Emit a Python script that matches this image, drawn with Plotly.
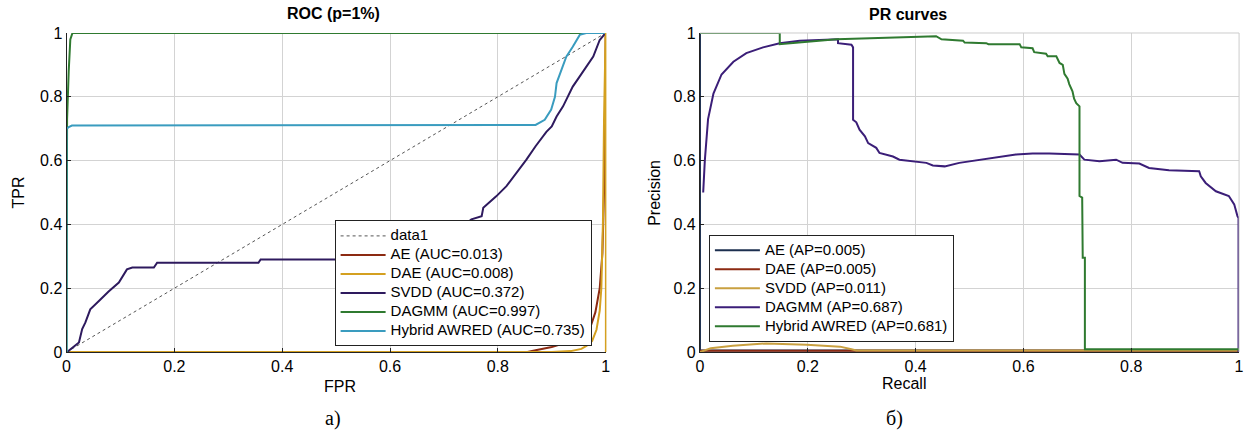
import plotly.graph_objects as go
from plotly.subplots import make_subplots

# ---- ROC data (left panel) ----
diag_fpr = [0, 1]
diag_tpr = [0, 1]

ae_fpr = [0, 0.855, 0.87, 0.885, 0.9, 0.912, 0.925, 0.94, 0.952, 0.964, 0.973, 0.981, 0.989, 0.994, 0.997, 0.999, 1.0]
ae_tpr = [0, 0, 0.006, 0.01, 0.016, 0.022, 0.03, 0.038, 0.046, 0.062, 0.085, 0.125, 0.2, 0.31, 0.5, 0.75, 1.0]

dae_fpr = [0, 0.9, 0.935, 0.955, 0.965, 0.975, 0.983, 0.989, 0.992, 0.995, 0.997, 0.999, 1.0]
dae_tpr = [0, 0, 0.003, 0.01, 0.02, 0.035, 0.07, 0.13, 0.2, 0.41, 0.73, 0.94, 1.0]

svdd_fpr = [0, 0.001, 0.023, 0.029, 0.035, 0.044, 0.06, 0.078, 0.097, 0.112, 0.122, 0.162, 0.168,
            0.356, 0.36, 0.65, 0.70, 0.732, 0.751, 0.77, 0.773, 0.797, 0.816, 0.834, 0.853, 0.87,
            0.88, 0.89, 0.9, 0.909, 0.921, 0.933, 0.939, 0.952, 0.964, 0.977, 0.989, 1.0]
svdd_tpr = [0, 0, 0.03, 0.072, 0.093, 0.134, 0.16, 0.19, 0.218, 0.259, 0.265, 0.265, 0.28,
            0.28, 0.29, 0.29, 0.34, 0.39, 0.416, 0.426, 0.452, 0.488, 0.52, 0.56, 0.603, 0.645,
            0.666, 0.69, 0.707, 0.738, 0.77, 0.81, 0.832, 0.864, 0.895, 0.926, 0.978, 1.0]

dagmm_fpr = [0, 0, 0.001, 0.004, 0.007, 0.011, 1.0]
dagmm_tpr = [0, 0.3, 0.73, 0.88, 0.98, 1.0, 1.0]

hyb_fpr = [0, 0, 0.004, 0.01, 0.87, 0.887, 0.899, 0.906, 0.909, 0.918, 0.927, 0.939, 0.952, 0.964, 1.0]
hyb_tpr = [0, 0.70, 0.705, 0.71, 0.712, 0.728, 0.76, 0.80, 0.843, 0.884, 0.926, 0.957, 0.994, 1.0, 1.0]

# ---- PR data (right panel) ----
pr_ae_rec = [0, 0, 1.0]
pr_ae_prec = [1.0, 0.005, 0.005]

pr_dae_rec = [0, 1.0]
pr_dae_prec = [0.004, 0.004]

pr_svdd_rec = [0, 0.02, 0.061, 0.123, 0.198, 0.26, 0.281, 0.29, 1.0]
pr_svdd_prec = [0, 0.012, 0.02, 0.027, 0.023, 0.017, 0.009, 0.005, 0.005]

pr_dagmm_rec = [0.006, 0.009, 0.015, 0.025, 0.04, 0.062, 0.086, 0.117, 0.148, 0.185, 0.256, 0.256, 0.281,
                0.284, 0.284, 0.29, 0.296, 0.306, 0.312, 0.327, 0.333, 0.358, 0.37, 0.395, 0.42, 0.432,
                0.454, 0.481, 0.519, 0.556, 0.586, 0.617, 0.648, 0.704, 0.713, 0.741, 0.772, 0.784,
                0.815, 0.833, 0.87, 0.926, 0.929, 0.938, 0.957, 0.981, 0.991, 0.997, 0.999, 0.999]
pr_dagmm_prec = [0.50, 0.60, 0.73, 0.81, 0.87, 0.91, 0.937, 0.955, 0.968, 0.976, 0.98, 0.968, 0.963,
                 0.955, 0.728, 0.72, 0.697, 0.676, 0.655, 0.64, 0.624, 0.613, 0.603, 0.598, 0.593, 0.585,
                 0.582, 0.593, 0.603, 0.611, 0.619, 0.622, 0.622, 0.619, 0.603, 0.598, 0.603, 0.593,
                 0.591, 0.577, 0.57, 0.567, 0.551, 0.53, 0.504, 0.489, 0.463, 0.426, 0.42, 0.0]

pr_hyb_rec = [0, 0.148, 0.148, 0.2, 0.253, 0.3, 0.438, 0.448, 0.488, 0.491, 0.531, 0.535, 0.593, 0.596,
              0.617, 0.62, 0.642, 0.645, 0.661, 0.667, 0.673, 0.676, 0.682, 0.685, 0.691, 0.694, 0.698,
              0.704, 0.704, 0.709, 0.71, 0.714, 0.714, 1.0]
pr_hyb_prec = [1.0, 1.0, 0.965, 0.972, 0.98, 0.983, 0.99, 0.98, 0.976, 0.97, 0.968, 0.965, 0.965, 0.955,
               0.952, 0.94, 0.935, 0.927, 0.927, 0.906, 0.9, 0.872, 0.857, 0.84, 0.817, 0.794, 0.78,
               0.77, 0.489, 0.484, 0.296, 0.296, 0.009, 0.009]

tick_vals = [0, 0.2, 0.4, 0.6, 0.8, 1]
tick_text = ['0', '0.2', '0.4', '0.6', '0.8', '1']

FONT = 'Liberation Sans, Arial, sans-serif'
W, H = 1253, 437


def lg(name):
    # bigger legend text while keeping the tight MATLAB row spacing
    return '<span style="font-size:15px">' + name + '</span>'


def px(x):
    return x / W


def py(y):
    return (H - y) / H


fig = make_subplots(rows=1, cols=2)

# left panel
fig.add_trace(go.Scatter(x=diag_fpr, y=diag_tpr, name=lg('data1'), mode='lines',
                         line=dict(color='#555555', width=1, dash='dot'), legend='legend'), row=1, col=1)
fig.add_trace(go.Scatter(x=ae_fpr, y=ae_tpr, name=lg('AE (AUC=0.013)'), mode='lines',
                         line=dict(color='#8c2a12', width=2), legend='legend'), row=1, col=1)
fig.add_trace(go.Scatter(x=dae_fpr, y=dae_tpr, name=lg('DAE (AUC=0.008)'), mode='lines',
                         line=dict(color='#d4a020', width=2), legend='legend'), row=1, col=1)
fig.add_trace(go.Scatter(x=svdd_fpr, y=svdd_tpr, name=lg('SVDD (AUC=0.372)'), mode='lines',
                         line=dict(color='#2e1a5e', width=2), legend='legend'), row=1, col=1)
fig.add_trace(go.Scatter(x=dagmm_fpr, y=dagmm_tpr, name=lg('DAGMM (AUC=0.997)'), mode='lines',
                         line=dict(color='#2f7a30', width=2), legend='legend'), row=1, col=1)
fig.add_trace(go.Scatter(x=hyb_fpr, y=hyb_tpr, name=lg('Hybrid AWRED (AUC=0.735)'), mode='lines',
                         line=dict(color='#3a9cbf', width=2), legend='legend'), row=1, col=1)

# right panel
fig.add_trace(go.Scatter(x=pr_ae_rec, y=pr_ae_prec, name=lg('AE (AP=0.005)'), mode='lines',
                         line=dict(color='#1c2f4f', width=2), legend='legend2'), row=1, col=2)
fig.add_trace(go.Scatter(x=pr_dae_rec, y=pr_dae_prec, name=lg('DAE (AP=0.005)'), mode='lines',
                         line=dict(color='#8c2a12', width=2), legend='legend2'), row=1, col=2)
fig.add_trace(go.Scatter(x=pr_svdd_rec, y=pr_svdd_prec, name=lg('SVDD (AP=0.011)'), mode='lines',
                         line=dict(color='#c9a040', width=2), legend='legend2'), row=1, col=2)
fig.add_trace(go.Scatter(x=pr_dagmm_rec, y=pr_dagmm_prec, name=lg('DAGMM (AP=0.687)'), mode='lines',
                         line=dict(color='#3b1e78', width=2), legend='legend2'), row=1, col=2)
fig.add_trace(go.Scatter(x=pr_hyb_rec, y=pr_hyb_prec, name=lg('Hybrid AWRED (AP=0.681)'), mode='lines',
                         line=dict(color='#2f7a30', width=2), legend='legend2'), row=1, col=2)

axis_common = dict(range=[0, 1], tickvals=tick_vals, ticktext=tick_text, showgrid=True,
                   gridcolor='#d3d3d3', gridwidth=1, zeroline=False, showline=True, linecolor='#222222',
                   linewidth=1, ticks='inside', ticklen=4, tickcolor='#222222',
                   tickfont=dict(family=FONT, size=16, color='black'))

fig.update_xaxes(axis_common)
fig.update_yaxes(axis_common)
fig.update_xaxes(domain=[px(63), px(606)], row=1, col=1)
fig.update_xaxes(domain=[px(701), px(1244)], row=1, col=2)
fig.update_yaxes(domain=[py(358), py(26)])

# box edges (top / right) of each axes
fig.add_shape(type='line', xref='x domain', yref='y domain', x0=1, x1=1, y0=0, y1=1,
              line=dict(color='#d4a020', width=1.5))
fig.add_shape(type='line', xref='x2 domain', yref='y2 domain', x0=1, x1=1, y0=0, y1=1,
              line=dict(color='#cccccc', width=1))
fig.add_shape(type='line', xref='x2 domain', yref='y2 domain', x0=0, x1=1, y0=1, y1=1,
              line=dict(color='#cccccc', width=1))

ann = []
ann.append(dict(text='<b>ROC (p=1%)</b>', x=px(332), y=py(6), font=dict(size=16)))
ann.append(dict(text='<b>PR curves</b>', x=px(911), y=py(7), font=dict(size=16)))
ann.append(dict(text='FPR', x=px(338), y=py(394), font=dict(size=16)))
ann.append(dict(text='Recall', x=px(907), y=py(391), font=dict(size=16)))
ann.append(dict(text='TPR', x=px(15), y=py(192), textangle=-90, font=dict(size=16)))
ann.append(dict(text='Precision', x=px(655), y=py(192), textangle=-90, font=dict(size=16)))
ann.append(dict(text='а)', x=px(331), y=py(427),
                font=dict(size=20, family='Liberation Serif, Times New Roman, serif')))
ann.append(dict(text='б)', x=px(897), y=py(427),
                font=dict(size=20, family='Liberation Serif, Times New Roman, serif')))
for a in ann:
    a.update(xref='paper', yref='paper', showarrow=False, xanchor='center', yanchor='middle')
    a['font'].setdefault('family', FONT)
    a['font']['color'] = 'black'

legend_common = dict(xref='paper', yref='paper', xanchor='left', yanchor='top', bgcolor='white',
                     bordercolor='#222222', borderwidth=1, tracegroupgap=0, itemwidth=45,
                     font=dict(family=FONT, size=11, color='black'))

fig.update_layout(
    width=W, height=H,
    margin=dict(l=0, r=0, t=0, b=0),
    paper_bgcolor='white', plot_bgcolor='white',
    showlegend=True,
    annotations=ann,
    legend=dict(legend_common, x=px(333), y=py(221)),
    legend2=dict(legend_common, x=px(710), y=py(236)),
)

fig.write_html("out.html", config={'displayModeBar': False},
               post_script="document.body.style.margin='0px';")
